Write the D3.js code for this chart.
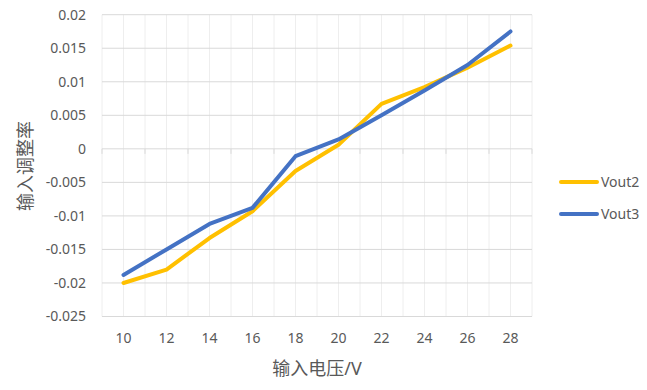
<!DOCTYPE html>
<html>
<head>
<meta charset="utf-8">
<script src="https://cdn.jsdelivr.net/npm/d3@7"></script>
<style>
html,body{margin:0;padding:0;background:#fff;}
svg{display:block;font-family:"Noto Sans","Noto Sans CJK SC",sans-serif;}
</style>
</head>
<body>
<svg id="chart" width="647" height="390"></svg>
<script>
const categories = [10, 12, 14, 16, 18, 20, 22, 24, 26, 28];
const vout2 = [-0.0200, -0.0180, -0.0133, -0.0093, -0.0033, 0.0006, 0.0067, 0.0092, 0.0121, 0.0154];
const vout3 = [-0.0188, -0.0150, -0.0112, -0.0088, -0.0011, 0.0014, 0.0050, 0.0087, 0.0125, 0.0175];
const yTicks = [0.02, 0.015, 0.01, 0.005, 0, -0.005, -0.01, -0.015, -0.02, -0.025];
const seriesNames = ["Vout2", "Vout3"];
const seriesColors = ["#FFC000", "#4472C4"];

const svg = d3.select("#chart");
const pLeft = 102, pRight = 532, pTop = 14.7, pBottom = 316.5;

const x = d3.scaleBand().domain(categories).range([pLeft, pRight]).padding(0);
const y = d3.scaleLinear().domain([-0.025, 0.02]).range([pBottom, pTop]);

const textColor = "#595959";

// vertical gridlines at band edges and centers
const vEdges = categories.map(c => x(c)).concat([pRight]);
const vCenters = categories.map(c => x(c) + x.bandwidth() / 2);
svg.append("g").selectAll("line").data(vEdges.concat(vCenters)).join("line")
  .attr("x1", d => d).attr("x2", d => d)
  .attr("y1", pTop).attr("y2", pBottom)
  .attr("stroke", "#eeeeee").attr("stroke-width", 1);

// horizontal gridlines
svg.append("g").selectAll("line").data(yTicks).join("line")
  .attr("x1", pLeft).attr("x2", pRight)
  .attr("y1", d => y(d)).attr("y2", d => y(d))
  .attr("stroke", "#d9d9d9").attr("stroke-width", 1);

// tick marks at zero axis
svg.append("g").selectAll("line").data(vEdges).join("line")
  .attr("x1", d => d).attr("x2", d => d)
  .attr("y1", y(0)).attr("y2", y(0) + 5)
  .attr("stroke", "#d9d9d9").attr("stroke-width", 1);

// y tick labels
svg.append("g").selectAll("text").data(yTicks).join("text")
  .attr("x", 86).attr("y", d => y(d))
  .attr("dy", "0.35em").attr("text-anchor", "end")
  .attr("font-size", 14).attr("fill", textColor)
  .text(d => d === 0 ? "0" : String(+d.toFixed(3)));

// x tick labels
svg.append("g").selectAll("text").data(categories).join("text")
  .attr("x", d => x(d) + x.bandwidth() / 2).attr("y", 343)
  .attr("text-anchor", "middle")
  .attr("font-size", 14).attr("fill", textColor)
  .text(d => d);

// axis titles
svg.append("text").attr("x", 317).attr("y", 375).attr("text-anchor", "middle")
  .attr("font-size", 18).attr("fill", textColor).text("输入电压/V");
svg.append("text").attr("transform", "translate(32,166) rotate(-90)")
  .attr("text-anchor", "middle")
  .attr("font-size", 18).attr("fill", textColor).text("输入调整率");

// lines
const line = d3.line().x((d, i) => x(categories[i]) + x.bandwidth() / 2).y(d => y(d));
[vout2, vout3].forEach((s, k) => {
  svg.append("path").datum(s).attr("d", line)
    .attr("fill", "none").attr("stroke", seriesColors[k])
    .attr("stroke-width", 4).attr("stroke-linecap", "round").attr("stroke-linejoin", "round");
});

// legend
const legendY = [182, 214];
seriesNames.forEach((n, k) => {
  svg.append("line").attr("x1", 561).attr("x2", 597)
    .attr("y1", legendY[k]).attr("y2", legendY[k])
    .attr("stroke", seriesColors[k]).attr("stroke-width", 4).attr("stroke-linecap", "round");
  svg.append("text").attr("x", 601).attr("y", legendY[k]).attr("dy", "0.35em")
    .attr("font-size", 14).attr("fill", textColor).text(n);
});
</script>
</body>
</html>
